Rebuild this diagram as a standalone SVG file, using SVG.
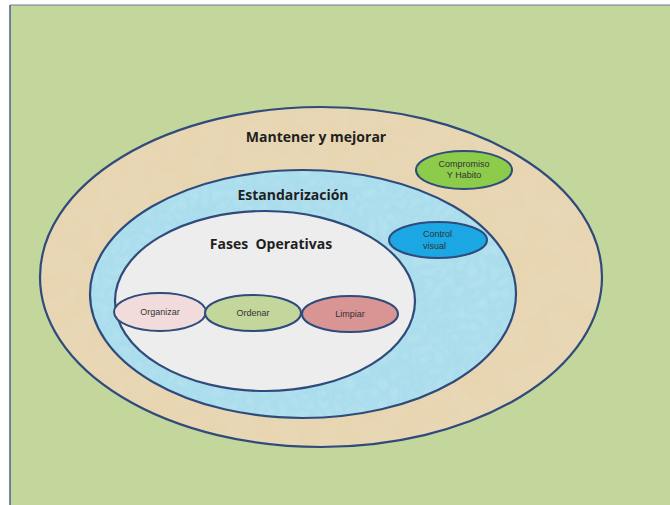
<svg xmlns="http://www.w3.org/2000/svg" width="670" height="505" viewBox="0 0 670 505">
<style>
.ring{stroke:#2F4B7C;stroke-width:2.2}
.node{stroke:#2F4B7C;stroke-width:2}
.big{font-family:"Open Sans","Liberation Sans",sans-serif;font-weight:bold;font-size:14px;fill:#1F1F1F;text-anchor:middle}
.small{font-family:"Liberation Sans",Arial,sans-serif;font-size:9px;fill:#333333}
.mid{text-anchor:middle}
</style>
<defs>
<filter id="sand" x="0" y="0" width="100%" height="100%">
<feTurbulence type="fractalNoise" baseFrequency="0.04" numOctaves="3" seed="3" result="n"/>
<feColorMatrix in="n" type="matrix" values="0 0 0 0 0.82  0 0 0 0 0.72  0 0 0 0 0.54  0 0 0 0.5 0" result="c"/>
<feComposite in="c" in2="SourceGraphic" operator="in" result="t"/>
<feMerge><feMergeNode in="SourceGraphic"/><feMergeNode in="t"/></feMerge>
</filter>
<filter id="water" x="0" y="0" width="100%" height="100%">
<feTurbulence type="turbulence" baseFrequency="0.09" numOctaves="2" seed="7" result="n"/>
<feColorMatrix in="n" type="matrix" values="0 0 0 0 0.55  0 0 0 0 0.80  0 0 0 0 0.90  0 0 0 0.6 0" result="c"/>
<feComposite in="c" in2="SourceGraphic" operator="in" result="t"/>
<feMerge><feMergeNode in="SourceGraphic"/><feMergeNode in="t"/></feMerge>
</filter>
<filter id="granite" x="0" y="0" width="100%" height="100%">
<feTurbulence type="fractalNoise" baseFrequency="0.6" numOctaves="2" seed="2" result="n"/>
<feColorMatrix in="n" type="matrix" values="0 0 0 0 0.80  0 0 0 0 0.80  0 0 0 0 0.80  0 0 0 0.5 0" result="c"/>
<feComposite in="c" in2="SourceGraphic" operator="in" result="t"/>
<feMerge><feMergeNode in="SourceGraphic"/><feMergeNode in="t"/></feMerge>
</filter>
</defs>
<rect x="0" y="0" width="670" height="505" fill="#FFFFFF"/>
<rect x="10" y="5" width="660" height="500" fill="#C3D69B"/>
<line x1="10" y1="5" x2="670" y2="5" stroke="#6B7F96" stroke-width="1"/>
<line x1="10" y1="5" x2="10" y2="505" stroke="#4A6285" stroke-width="1.5"/>

<g id="mantener">
<ellipse cx="321" cy="277" rx="281" ry="170" fill="#E7D4AE" filter="url(#sand)"/>
<ellipse class="ring" cx="321" cy="277" rx="281" ry="170" fill="none"/>
<text class="big" x="316" y="142">Mantener y mejorar</text>
</g>
<g id="estandarizacion">
<ellipse cx="303" cy="294" rx="213" ry="124" fill="#A9DDEC" filter="url(#water)"/>
<ellipse class="ring" cx="303" cy="294" rx="213" ry="124" fill="none"/>
<text class="big" x="293" y="200">Estandarización</text>
</g>
<g id="fases">
<ellipse cx="265" cy="301" rx="150" ry="90" fill="#EFEFEF" filter="url(#granite)"/>
<ellipse class="ring" cx="265" cy="301" rx="150" ry="90" fill="none"/>
<text class="big" x="271" y="249" xml:space="preserve">Fases  Operativas</text>
</g>
<g id="compromiso">
<ellipse class="node" cx="464" cy="170" rx="48" ry="19" fill="#8DCB4A"/>
<text class="small mid" x="464" y="167">Compromiso</text>
<text class="small mid" x="464" y="178">Y Habito</text>
</g>
<g id="control">
<ellipse class="node" cx="438" cy="240" rx="49" ry="18" fill="#1BA7E3"/>
<text class="small" x="423" y="237">Control</text>
<text class="small" x="423" y="249">visual</text>
</g>
<g id="organizar">
<ellipse class="node" cx="160" cy="312" rx="46" ry="19" fill="#F2DCDB"/>
<text class="small mid" x="160" y="315">Organizar</text>
</g>
<g id="ordenar">
<ellipse class="node" cx="253" cy="313" rx="48" ry="18" fill="#C3D69B"/>
<text class="small mid" x="253" y="316">Ordenar</text>
</g>
<g id="limpiar">
<ellipse class="node" cx="350" cy="314" rx="48" ry="18" fill="#D99594"/>
<text class="small mid" x="350" y="317">Limpiar</text>
</g>
<g id="connectors"></g>
</svg>
